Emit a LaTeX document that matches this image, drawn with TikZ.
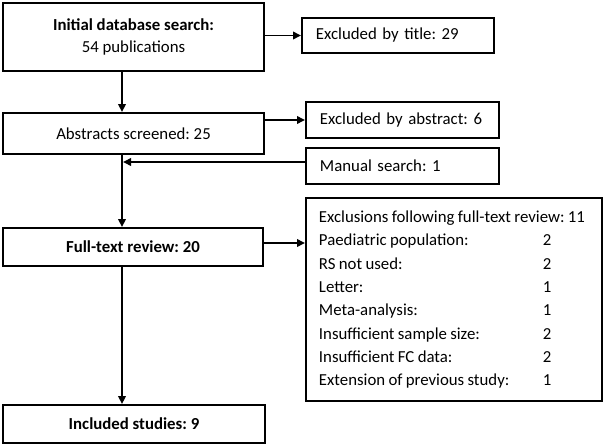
\documentclass[tikz,border=0pt]{standalone}
\usepackage{fontspec}
\setmainfont{Carlito}
\frenchspacing
\usetikzlibrary{arrows.meta}
\tikzset{
  box/.style={draw=black, line width=1.9pt, inner sep=0pt, align=center,
    font=\fontsize{16.8}{22}\selectfont\frenchspacing},
  sidebox/.style={draw=black, line width=1.9pt, inner xsep=14pt, inner ysep=0pt,
    anchor=west, align=left, font=\fontsize{16.8}{22}\selectfont\frenchspacing},
  arr/.style={line width=1.9pt, -{Triangle[length=8pt,width=7.5pt]}}
}
\begin{document}
\begin{tikzpicture}[x=1pt,y=-1pt]
\useasboundingbox (0,0) rectangle (606,447);
% main column
\node[box, minimum width=261pt, minimum height=68pt] (b1) at (133.5,37)
  {\textbf{Initial database search:}\\54 publications};
\node[box, minimum width=261pt, minimum height=41pt] (b2) at (133.5,133.5)
  {Abstracts screened: 25};
\node[box, minimum width=260pt, minimum height=38pt] (b3) at (133,247)
  {\textbf{Full-text review: 20}};
\node[box, minimum width=262pt, minimum height=38pt] (b4) at (134,424)
  {\textbf{Included studies: 9}};
% side boxes
\node[sidebox, text width=164pt, minimum height=35pt] (title) at (301,35.5)
  {Excluded by title: 29};
\node[sidebox, text width=165pt, minimum height=36pt] (abs) at (305,120)
  {Excluded by abstract: 6};
\node[sidebox, text width=165pt, minimum height=36pt] (man) at (305,166)
  {Manual search: 1};
\node[draw=black, line width=1.9pt, anchor=west, inner xsep=13pt, inner ysep=0pt,
  text width=270pt, minimum height=203pt, align=left] (big) at (305,299.5)
  {\fontsize{16.8}{23.3}\selectfont\frenchspacing\setlength{\tabcolsep}{0pt}%
   \begin{tabular}{@{}p{224pt}l@{}}
   \multicolumn{2}{@{}l@{}}{Exclusions following full-text review: 11}\\
   Paediatric population: & 2\\
   RS not used: & 2\\
   Letter: & 1\\
   Meta-analysis: & 1\\
   Insufficient sample size: & 2\\
   Insufficient FC data: & 2\\
   Extension of previous study: & 1
   \end{tabular}};
% spine
\coordinate (sp) at (122,0);
\draw[arr] (b1.south -| sp) -- (b2.north -| sp);
\draw[arr] (b2.south -| sp) -- (b3.north -| sp);
\draw[arr] (b3.south -| sp) -- (b4.north -| sp);
% side arrows
\draw[arr] (b1.east |- title.west) -- (title.west);
\draw[arr] (b2.east |- abs.west) -- (abs.west);
\draw[arr] ([yshift=4pt]man.west) -- ([yshift=4pt,xshift=1pt]man.west -| sp);
\draw[arr] ([yshift=4pt]b3.east) -- ([yshift=4pt]b3.east -| big.west);
\end{tikzpicture}
\end{document}
